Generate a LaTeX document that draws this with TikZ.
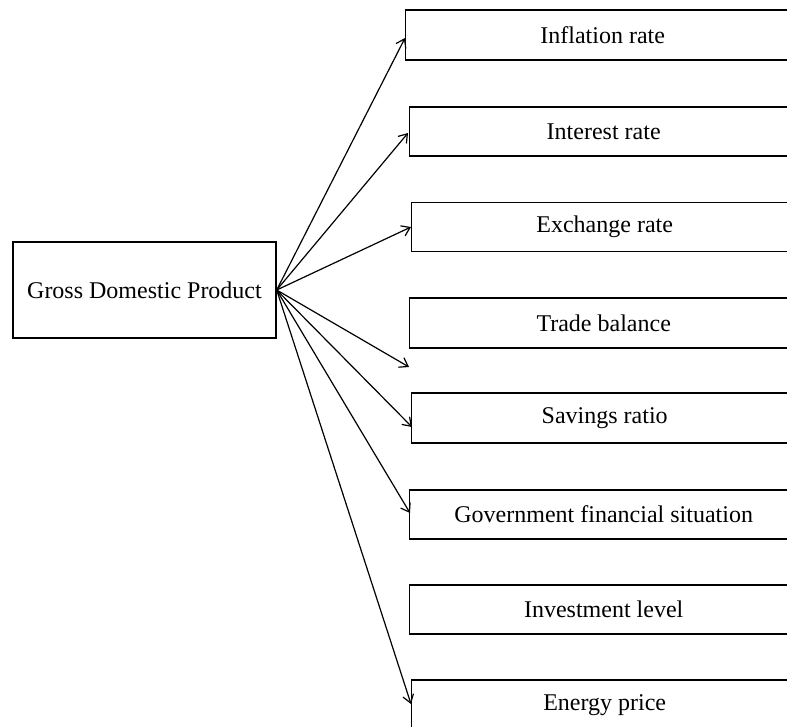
\documentclass[tikz,border=0pt]{standalone}
\usepackage{fontspec}
\setmainfont{Liberation Serif}
\usetikzlibrary{arrows.meta}
\begin{document}
\begin{tikzpicture}[x=1pt,y=-1pt,
  box/.style={draw, line width=1.4pt, minimum width=388pt, minimum height=49pt, inner sep=0pt, font=\fontsize{24}{28}\selectfont, anchor=west},
  conn/.style={line width=1.2pt, -{Straight Barb[length=8pt,width=11pt,line width=1.2pt]}}]
\useasboundingbox (0,0) rectangle (787,726);
\node[draw, line width=1.4pt, minimum width=263pt, minimum height=96pt, inner sep=0pt, font=\fontsize{24}{28}\selectfont] (gdp) at (144.5,290) {Gross Domestic Product};
\node[box, minimum width=394pt, minimum height=50pt] (b1) at (405,35) {Inflation rate};
\node[box] (b2) at (409,131.5) {Interest rate};
\node[box, minimum width=386pt] (b3) at (411,227) {Exchange rate};
\node[box, minimum height=50pt] (b4) at (409,323) {Trade balance};
\node[box, minimum width=386pt, minimum height=50pt] (b5) at (411,418) {Savings ratio};
\node[box] (b6) at (409,514.5) {Government financial situation};
\node[box] (b7) at (409,609.5) {Investment level};
\node[box, minimum width=386pt, minimum height=50pt] (b8) at (411,705) {Energy price};
\coordinate (t1) at (405,38);
\coordinate (t2) at (408,133);
\coordinate (t3) at (411,227);
\coordinate (t4) at (409,367);
\coordinate (t5) at (412,427);
\coordinate (t6) at (410,513);
\coordinate (t8) at (411,704);
\foreach \t in {t1,t2,t3,t4,t5,t6,t8}
  \draw[conn] (gdp.east) -- (\t);
\end{tikzpicture}
\end{document}
